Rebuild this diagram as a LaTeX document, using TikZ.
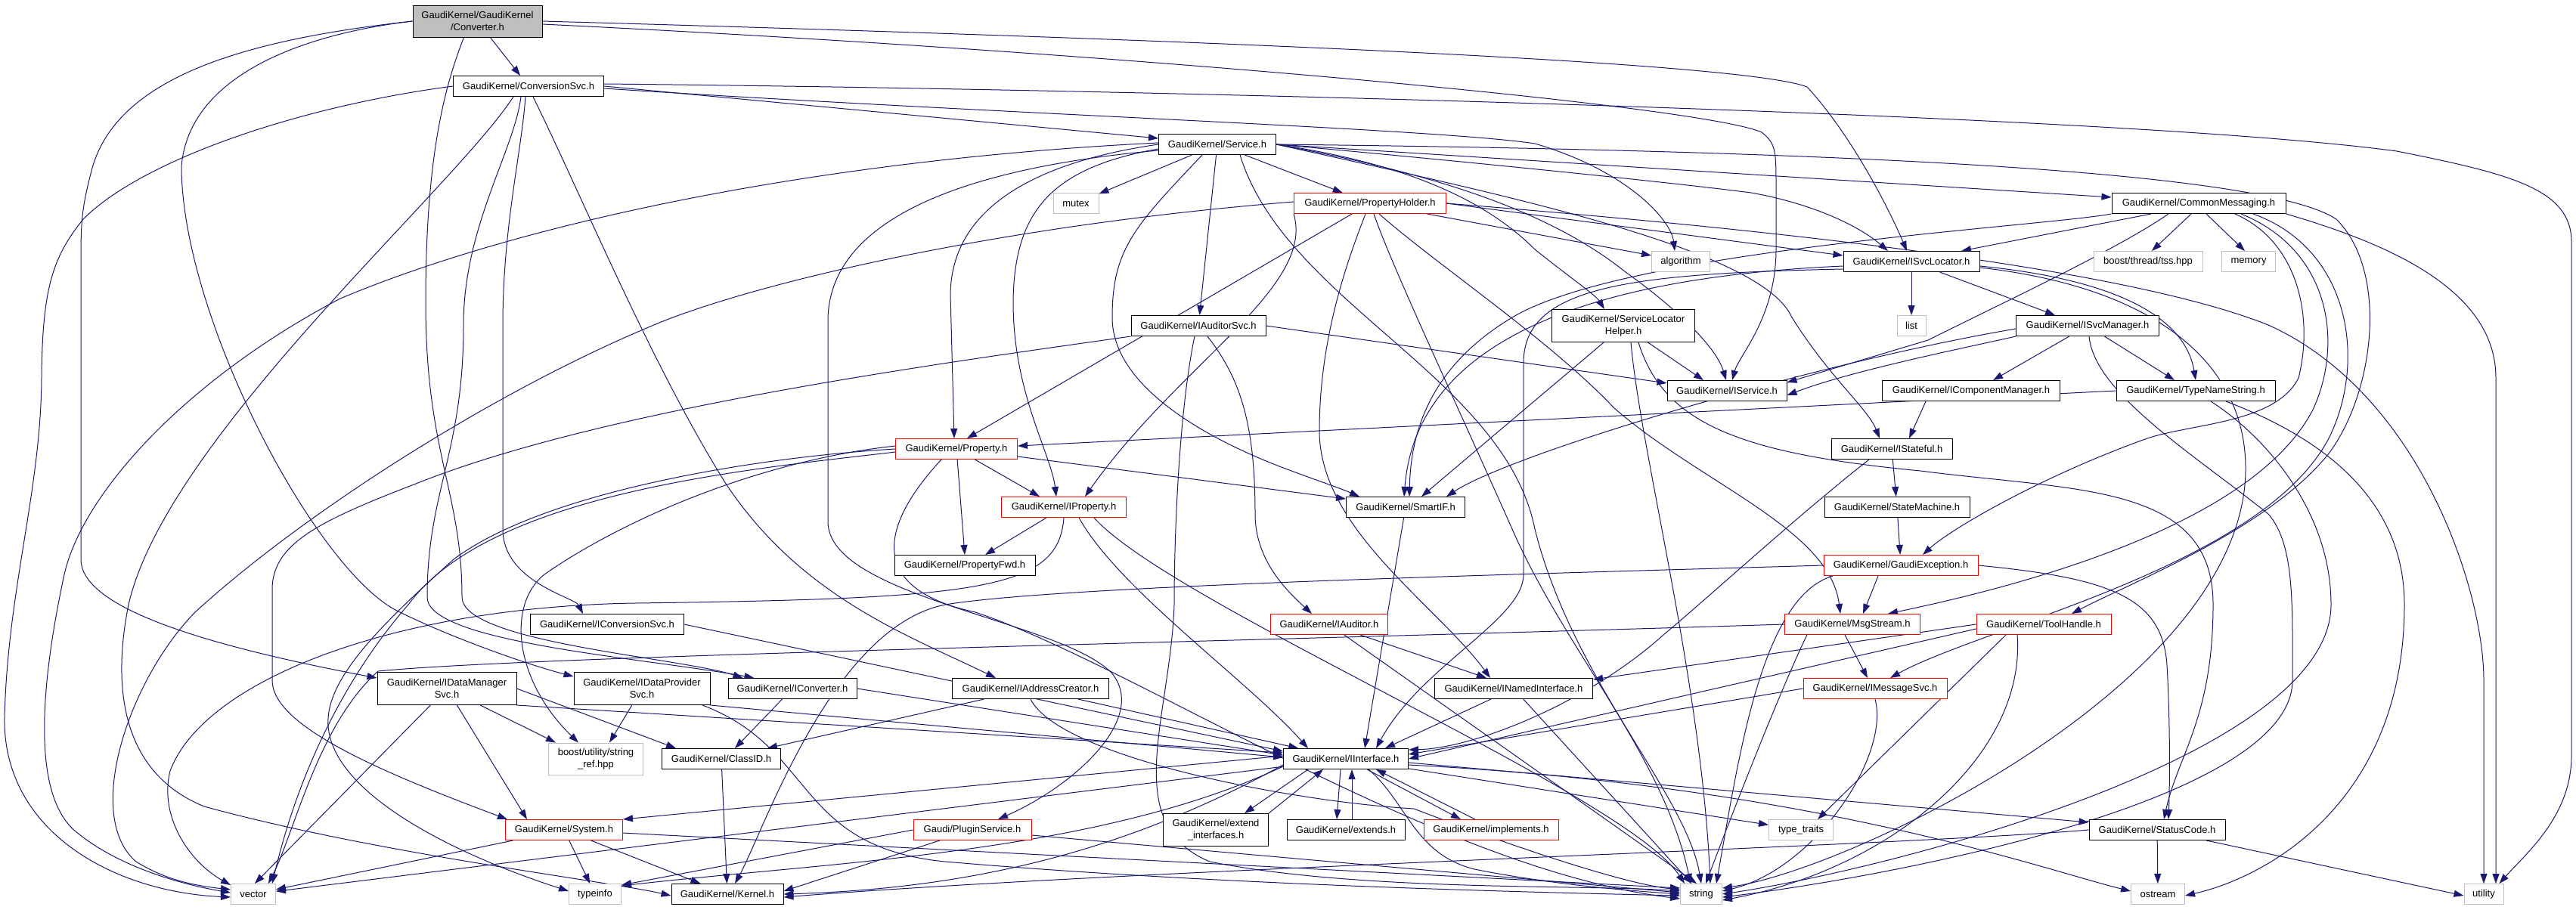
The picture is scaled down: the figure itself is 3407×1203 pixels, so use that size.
\documentclass[tikz,border=0pt]{standalone}
\usepackage{fontspec}
\setmainfont{Liberation Sans}
\usetikzlibrary{arrows.meta}
\definecolor{edgec}{HTML}{191970}
\definecolor{grayb}{HTML}{BFBFBF}
\pgfdeclarelayer{bg}
\pgfsetlayers{bg,main}
\begin{document}
\begin{tikzpicture}[x=1pt,y=-1pt,
  nb/.style={draw=black,fill=white,line width=1pt,inner sep=0pt,font=\fontsize{13}{16}\selectfont,align=center,minimum height=27pt},
  nr/.style={nb,draw=red},
  ng/.style={nb,draw=grayb},
  e/.style={draw=edgec,line width=1pt,-{Triangle[length=13pt,width=9pt]}},
]
\useasboundingbox (0,0) rectangle (3407,1203);
% ---------------- nodes
\node[nb,fill=grayb,minimum width=171pt,minimum height=42pt] (conv) at (631.5,28) {GaudiKernel/GaudiKernel\\/Converter.h};
\node[nb,minimum width=199pt] (csvc) at (699,114) {GaudiKernel/ConversionSvc.h};
\node[nb,minimum width=155pt] (svc) at (1610,191) {GaudiKernel/Service.h};
\node[ng,minimum width=60pt] (mutex) at (1423,269) {mutex};
\node[nr,minimum width=201pt] (ph) at (1812,269) {GaudiKernel/PropertyHolder.h};
\node[ng,minimum width=77pt] (algo) at (2223,346) {algorithm};
\node[nb,minimum width=180pt] (isl) at (2528,346) {GaudiKernel/ISvcLocator.h};
\node[nb,minimum width=230pt] (cm) at (2908,269) {GaudiKernel/CommonMessaging.h};
\node[ng,minimum width=144pt] (tss) at (2841,346) {boost/thread/tss.hpp};
\node[ng,minimum width=71pt] (memory) at (2974,346) {memory};
\node[nb,minimum width=178pt] (ias) at (1585,431) {GaudiKernel/IAuditorSvc.h};
\node[nb,minimum width=189pt,minimum height=43pt] (slh) at (2147,431) {GaudiKernel/ServiceLocator\\Helper.h};
\node[ng,minimum width=38pt] (list) at (2528,431) {list};
\node[nb,minimum width=189pt] (ism) at (2761,431) {GaudiKernel/ISvcManager.h};
\node[nb,minimum width=158pt] (isvc) at (2284,517) {GaudiKernel/IService.h};
\node[nb,minimum width=235pt] (icm) at (2607,517) {GaudiKernel/IComponentManager.h};
\node[nb,minimum width=210pt] (tns) at (2904,517) {GaudiKernel/TypeNameString.h};
\node[nr,minimum width=161pt] (prop) at (1265,594) {GaudiKernel/Property.h};
\node[nb,minimum width=160pt] (istf) at (2502,594) {GaudiKernel/IStateful.h};
\node[nr,minimum width=165pt] (iprop) at (1407,671) {GaudiKernel/IProperty.h};
\node[nb,minimum width=157pt] (sif) at (1859,671) {GaudiKernel/SmartIF.h};
\node[nb,minimum width=192pt] (sm) at (2509,671) {GaudiKernel/StateMachine.h};
\node[nb,minimum width=186pt] (pfwd) at (1276,748) {GaudiKernel/PropertyFwd.h};
\node[nr,minimum width=204pt] (gex) at (2514,748) {GaudiKernel/GaudiException.h};
\node[nb,minimum width=203pt] (icsvc) at (803,826) {GaudiKernel/IConversionSvc.h};
\node[nr,minimum width=155pt] (iaud) at (1758,826) {GaudiKernel/IAuditor.h};
\node[nr,minimum width=179pt] (msg) at (2450,826) {GaudiKernel/MsgStream.h};
\node[nr,minimum width=178pt] (th) at (2703,826) {GaudiKernel/ToolHandle.h};
\node[nb,minimum width=184pt,minimum height=43pt] (idm) at (591,911) {GaudiKernel/IDataManager\\Svc.h};
\node[nb,minimum width=180pt,minimum height=43pt] (idp) at (849,911) {GaudiKernel/IDataProvider\\Svc.h};
\node[nb,minimum width=170pt] (icnv) at (1048,911) {GaudiKernel/IConverter.h};
\node[nb,minimum width=207pt] (iac) at (1363,911) {GaudiKernel/IAddressCreator.h};
\node[nb,minimum width=209pt] (ini) at (2002,911) {GaudiKernel/INamedInterface.h};
\node[nr,minimum width=190pt] (ims) at (2480,911) {GaudiKernel/IMessageSvc.h};
\node[ng,minimum width=125pt,minimum height=42pt] (sref) at (788,1004) {boost/utility/string\\\_ref.hpp};
\node[nb,minimum width=157pt] (cid) at (954,1004) {GaudiKernel/ClassID.h};
\node[nb,minimum width=165pt] (iif) at (1780,1004) {GaudiKernel/IInterface.h};
\node[nr,minimum width=155pt] (sys) at (746,1098) {GaudiKernel/System.h};
\node[nr,minimum width=156pt] (plug) at (1286,1098) {Gaudi/PluginService.h};
\node[nb,minimum width=139pt,minimum height=43pt] (ext) at (1608,1098) {GaudiKernel/extend\\\_interfaces.h};
\node[nb,minimum width=156pt] (extends) at (1780,1098) {GaudiKernel/extends.h};
\node[nr,minimum width=178pt] (impl) at (1972,1098) {GaudiKernel/implements.h};
\node[ng,minimum width=85pt] (tt) at (2382,1098) {type\_traits};
\node[nb,minimum width=180pt] (sc) at (2853,1098) {GaudiKernel/StatusCode.h};
\node[ng,minimum width=59pt] (vector) at (335,1183) {vector};
\node[ng,minimum width=69pt] (typeinfo) at (787,1183) {typeinfo};
\node[nb,minimum width=148pt] (kernel) at (962,1183) {GaudiKernel/Kernel.h};
\node[ng,minimum width=55pt] (string) at (2250,1183) {string};
\node[ng,minimum width=71pt] (ostream) at (2854,1183) {ostream};
\node[ng,minimum width=52pt] (utility) at (3285,1183) {utility};
% ---------------- edges
\begin{pgfonlayer}{bg}
\fill[white] (0,0) rectangle (3407,1203);
% Converter.h
\draw[e] (conv) -- (csvc);
\draw[e] (conv.west) .. controls (330,52) and (150,100) .. (120,230) .. controls (107,280) and (107,300) .. (107,350) -- (107,740) .. controls (107,800) and (250,850) .. ([yshift=-8pt]idm.north west);
\draw[e] (conv.west) .. controls (400,45) and (250,100) .. (240,220) .. controls (240,420) and (420,760) .. (529,810) .. controls (600,845) and (700,880) .. ([yshift=-6pt]idp.north west);
\draw[e] ([xshift=-18pt]conv.south) .. controls (590,110) and (563,200) .. (563,400) .. controls (563,600) and (611,650) .. (611,790) .. controls (611,850) and (900,870) .. ([xshift=20pt]icnv.north west);
\draw[e] (conv.east) .. controls (1500,50) and (2300,80) .. (2390,115) .. controls (2450,180) and (2500,280) .. ([xshift=-6pt]isl.north);
\draw[e] ([yshift=-4pt]conv.east) .. controls (1500,70) and (2250,140) .. (2330,175) .. controls (2349,190) and (2349,200) .. (2349,250) -- (2349,330) .. controls (2349,420) and (2300,470) .. ([xshift=7pt]isvc.north);
% ConversionSvc.h
\draw[e] (csvc.east) -- ([yshift=8pt]svc.west);
\draw[e] ([yshift=-3pt]csvc.east) .. controls (1300,150) and (1900,170) .. (2030,190) .. controls (2150,225) and (2210,290) .. ([xshift=-8pt]algo.north);
\draw[e] ([yshift=3pt]csvc.east) .. controls (1500,118) and (2800,150) .. (3170,200) .. controls (3320,230) and (3401,250) .. (3401,320) -- (3401,1000) .. controls (3401,1080) and (3340,1130) .. ([xshift=-6pt]utility.north east);
\draw[e] (csvc.west) .. controls (400,140) and (190,210) .. (110,290) .. controls (70,340) and (56,380) .. (55,500) .. controls (54,650) and (10,780) .. (6,950) .. controls (4,1100) and (150,1180) .. ([yshift=-4pt]vector.west);
\draw[e] ([xshift=-20pt]csvc.south) .. controls (600,250) and (220,580) .. (170,800) .. controls (150,900) and (155,1020) .. (270,1067) .. controls (500,1130) and (800,1165) .. ([yshift=-2pt]kernel.west);
\draw[e] ([xshift=-10pt]csvc.south) .. controls (680,200) and (613,300) .. (613,430) .. controls (613,600) and (565,650) .. (565,790) .. controls (565,850) and (850,870) .. ([xshift=35pt]icnv.north west);
\draw[e] ([xshift=-4pt]csvc.south) .. controls (690,200) and (665,300) .. (665,430) -- (665,700) .. controls (665,770) and (760,790) .. ([xshift=-32pt]icsvc.north);
\draw[e] ([xshift=6pt]csvc.south) .. controls (770,260) and (860,480) .. (960,640) .. controls (1060,790) and (1200,840) .. ([xshift=-46pt]iac.north);
% Service.h
\draw[e] (svc) -- (mutex);
\draw[e] (svc) -- (ph);
\draw[e] (svc) -- (ias);
\draw[e] (svc.east) .. controls (1850,215) and (1960,260) .. (2030,330) .. controls (2080,370) and (2110,390) .. ([xshift=-25pt]slh.north);
\draw[e] (svc.east) .. controls (1900,230) and (2050,280) .. (2150,360) .. controls (2220,410) and (2270,460) .. ([xshift=-1pt]isvc.north);
\draw[e] (svc.east) .. controls (1900,210) and (2200,240) .. (2316,255) .. controls (2400,270) and (2460,300) .. ([xshift=-31pt]isl.north);
\draw[e] (svc.east) -- ([yshift=8pt]cm.west);
\draw[e] (svc.west) .. controls (1400,210) and (1258,260) .. (1257,390) -- ([xshift=-3pt]prop.north);
\draw[e] ([yshift=-6pt]svc.west) .. controls (1390,222) and (1341,280) .. (1340,400) .. controls (1340,520) and (1390,600) .. ([xshift=-10pt]iprop.north);
\draw[e] ([xshift=-20pt]svc.south) .. controls (1500,300) and (1471,330) .. (1471,420) .. controls (1471,520) and (1620,590) .. (1700,620) .. controls (1740,635) and (1770,645) .. ([xshift=-61pt]sif.north);
\draw[e] (svc.east) .. controls (2500,200) and (3000,230) .. (3090,290) .. controls (3160,360) and (3140,520) .. (3080,600) .. controls (3000,700) and (2820,770) .. ([xshift=37pt]th.north);
\draw[e] ([yshift=2pt]svc.west) .. controls (1100,210) and (700,290) .. (450,395) .. controls (250,500) and (110,650) .. (85,760) .. controls (55,900) and (40,1050) .. (100,1100) .. controls (160,1150) and (250,1172) .. ([yshift=2pt]vector.west);
\draw[e] ([yshift=-8pt]svc.west) .. controls (1300,220) and (1100,280) .. (1095,420) -- (1095,690) .. controls (1095,790) and (1400,820) .. (1470,890) .. controls (1520,950) and (1420,1040) .. ([xshift=34pt]plug.north);
\draw[e] ([xshift=30pt]svc.south) .. controls (1700,400) and (1990,500) .. (2030,700) .. controls (2080,900) and (2230,1050) .. ([xshift=0pt]string.north);
\draw[e] (svc.east) .. controls (2000,260) and (2330,330) .. (2370,420) .. controls (2420,500) and (2470,540) .. ([xshift=-16pt]istf.north);
% PropertyHolder.h
\draw[e] (ph) -- ([yshift=8pt]algo.west);
\draw[e] (ph.east) -- ([yshift=8pt]isl.west);
\draw[e] (ph) -- ([xshift=14pt]prop.north);
\draw[e] (ph.south west) .. controls (1740,380) and (1560,480) .. ([xshift=28pt]iprop.north);
\draw[e] ([yshift=2pt]ph.west) .. controls (1300,300) and (980,380) .. (860,432) .. controls (650,520) and (400,680) .. (258,810) .. controls (170,900) and (110,1080) .. (180,1140) .. controls (220,1165) and (260,1172) .. ([yshift=6pt]vector.west);
\draw[e] ([xshift=5pt]ph.south) .. controls (1840,350) and (1920,520) .. (2000,700) .. controls (2070,860) and (2200,1000) .. ([xshift=-14pt]string.north);
\draw[e] ([xshift=12pt]ph.south) .. controls (1900,350) and (2050,450) .. (2135,540) .. controls (2250,640) and (2420,700) .. ([xshift=-16pt]msg.north);
\draw[e] (ph.east) .. controls (2300,300) and (2800,350) .. (3000,430) .. controls (3200,520) and (3285,780) .. (3285,900) -- (utility.north);
\draw[e] ([xshift=-6pt]ph.south) .. controls (1780,350) and (1745,450) .. (1745,570) .. controls (1745,700) and (1900,800) .. ([xshift=-31pt]ini.north);
% ISvcLocator.h
\draw[e] (isl) -- (list);
\draw[e] (isl) -- ([xshift=-43pt]ism.north);
\draw[e] ([yshift=-6pt]isl.east) .. controls (2800,370) and (2890,420) .. ([xshift=0pt]tns.north);
\draw[e] ([yshift=-6pt]isl.west) .. controls (2150,365) and (1875,430) .. ([xshift=-2pt]sif.north);
\draw[e] ([yshift=-10pt]isl.west) .. controls (2150,362) and (2015,380) .. (2015,480) -- (2015,760) .. controls (2015,820) and (1880,880) .. ([xshift=40pt]iif.north);
\draw[e] ([yshift=-8pt]isl.east) .. controls (2850,380) and (2970,480) .. (2970,620) .. controls (2970,900) and (2450,1150) .. ([yshift=8pt]string.east);
% CommonMessaging.h
\draw[e] ([xshift=-63pt]cm.south) -- ([xshift=66pt]isl.north);
\draw[e] ([xshift=-40pt]cm.south) .. controls (2800,330) and (2650,400) .. (2550,450) .. controls (2450,480) and (2400,495) .. ([yshift=-3pt]isvc.north east);
\draw[e] (cm.south west) .. controls (2700,300) and (2150,330) .. (2000,420) .. controls (1900,480) and (1866,560) .. ([xshift=5pt]sif.north);
\draw[e] ([xshift=-10pt]cm.south) -- ([xshift=5pt]tss.north);
\draw[e] ([xshift=10pt]cm.south) -- ([xshift=-5pt]memory.north);
\draw[e] ([xshift=48pt]cm.south) .. controls (3040,320) and (3060,420) .. (3040,500) .. controls (3010,560) and (2900,560) .. (2840,580) .. controls (2700,630) and (2580,700) .. ([xshift=29pt]gex.north);
\draw[e] ([xshift=56pt]cm.south) .. controls (3080,330) and (3100,450) .. (3060,540) .. controls (2980,700) and (2650,780) .. ([xshift=47pt]msg.north);
\draw[e] ([xshift=72pt]cm.south) .. controls (3110,330) and (3130,480) .. (3080,580) .. controls (2990,750) and (2620,830) .. ([xshift=20pt]ims.north);
\draw[e] (cm.south east) .. controls (3150,320) and (3301,380) .. (3301,500) -- ([xshift=16pt]utility.north);
% IAuditorSvc.h
\draw[e] (ias.east) -- ([yshift=10pt]isvc.west);
\draw[e] ([xshift=12pt]ias.south) .. controls (1640,500) and (1660,560) .. (1660,680) .. controls (1660,740) and (1700,780) .. ([xshift=-23pt]iaud.north);
\draw[e] (ias.south west) .. controls (1250,480) and (800,540) .. (550,640) .. controls (420,690) and (360,720) .. (360,780) -- (360,900) .. controls (360,960) and (500,1020) .. ([xshift=-75pt]sys.north);
\draw[e] ([xshift=-5pt]ias.south) .. controls (1560,540) and (1553,700) .. (1553,800) .. controls (1548,950) and (1480,1090) .. (1600,1140) .. controls (1800,1180) and (2100,1170) .. ([yshift=4pt]string.west);
% ServiceLocatorHelper.h
\draw[e] (slh) -- ([xshift=-31pt]isvc.north);
\draw[e] (slh) -- ([xshift=21pt]sif.north);
\draw[e] ([xshift=10pt]slh.south) .. controls (2170,600) and (2250,900) .. ([xshift=12pt]string.north);
\draw[e] ([xshift=20pt]slh.south) .. controls (2200,560) and (2300,600) .. (2540,623) .. controls (2750,650) and (2927,640) .. (2927,800) .. controls (2927,950) and (2880,1000) .. ([xshift=9pt]sc.north);
% ISvcManager.h
\draw[e] (ism) -- ([xshift=29pt]icm.north);
\draw[e] (ism) -- ([xshift=-28pt]tns.north);
\draw[e] (ism.south west) .. controls (2600,460) and (2450,490) .. ([yshift=-6pt]isvc.east);
\draw[e] ([yshift=-4pt]ism.west) .. controls (2400,480) and (2000,600) .. ([xshift=54pt]sif.north);
\draw[e] ([xshift=2pt]ism.south) .. controls (2770,520) and (2900,600) .. (3000,680) .. controls (3035,720) and (3032,800) .. (3032,900) .. controls (3032,1060) and (2500,1160) .. ([yshift=-4pt]string.east);
% IComponentManager.h
\draw[e] ([xshift=-60pt]icm.south) -- ([xshift=23pt]istf.north);
% TypeNameString.h
\draw[e] (tns.west) -- ([yshift=4pt]prop.east);
\draw[e] ([xshift=20pt]tns.south) .. controls (3000,580) and (3083,680) .. (3083,800) .. controls (3083,1000) and (2500,1150) .. ([yshift=0pt]string.east);
\draw[e] ([xshift=40pt]tns.south) .. controls (3100,590) and (3180,680) .. (3180,800) .. controls (3180,1060) and (3000,1160) .. ([yshift=-2pt]ostream.east);
% Property.h
\draw[e] (prop) -- ([xshift=-32pt]iprop.north);
\draw[e] (prop) -- (pfwd.north);
\draw[e] ([yshift=-10pt]prop.east) -- ([yshift=-3pt]sif.north west);
\draw[e] ([yshift=4pt]prop.west) .. controls (1000,610) and (820,690) .. (720,760) .. controls (670,800) and (680,900) .. ([xshift=-23pt]sref.north);
\draw[e] (prop.west) .. controls (1000,605) and (720,650) .. (600,740) .. controls (500,830) and (430,900) .. (434,960) .. controls (440,1050) and (600,1130) .. ([yshift=4pt]typeinfo.west);
\draw[e] ([yshift=-4pt]prop.west) .. controls (1000,620) and (650,650) .. (540,800) .. controls (470,880) and (400,1000) .. ([xshift=-5pt]vector.north east);
\draw[e] ([xshift=-20pt]prop.south) .. controls (1160,700) and (1150,780) .. (1290,810) .. controls (1500,880) and (1900,1150) .. ([yshift=-6pt]string.west);
% IStateful.h
\draw[e] (istf) -- (sm);
\draw[e] ([xshift=-30pt]istf.south) .. controls (2380,680) and (2260,790) .. (2200,840) .. controls (2100,930) and (1950,990) .. ([yshift=12pt]iif.east);
% IProperty.h
\draw[e] (iprop) -- ([xshift=27pt]pfwd.north);
\draw[e] (iprop.south) .. controls (1400,780) and (1300,792) .. (840,798) .. controls (520,803) and (270,900) .. (225,1020) .. controls (210,1080) and (250,1140) .. ([yshift=-2pt]vector.north west);
\draw[e] ([xshift=20pt]iprop.south) .. controls (1480,780) and (1650,900) .. ([xshift=-50pt]iif.north);
\draw[e] ([xshift=40pt]iprop.south) .. controls (1550,800) and (2150,1050) .. ([xshift=-22pt]string.north);
% SmartIF.h / StateMachine.h
\draw[e] (sif) -- ([xshift=25pt]iif.north);
\draw[e] (sm) -- (gex);
% GaudiException.h
\draw[e] ([xshift=-30pt]gex.south) -- ([xshift=14pt]msg.north);
\draw[e] (gex.east) .. controls (2791,765) and (2860,790) .. (2866,880) .. controls (2870,950) and (2870,1030) .. ([xshift=15pt]sc.north);
\draw[e] ([xshift=-90pt]gex.south) .. controls (2330,790) and (2300,1000) .. ([xshift=20pt]string.north);
\draw[e] (gex.west) .. controls (2000,760) and (1400,775) .. (1250,800) .. controls (1100,830) and (1010,1100) .. ([xshift=10pt]kernel.north);
% IConversionSvc.h / IAuditor.h
\draw[e] (icsvc.east) -- ([yshift=10pt]iif.west);
\draw[e] (iaud) -- ([xshift=-36pt]ini.north);
\draw[e] (iaud) -- ([xshift=-6pt]string.north);
% MsgStream.h
\draw[e] ([xshift=-10pt]msg.south) -- ([xshift=-10pt]ims.north);
\draw[e] ([xshift=-60pt]msg.south) .. controls (2370,880) and (2320,1000) .. ([xshift=6pt]string.north);
\draw[e] (msg.west) .. controls (1600,850) and (700,868) .. (500,888) .. controls (420,960) and (390,1100) .. ([xshift=20pt]vector.north);
% IMessageSvc.h
\draw[e] (ims.west) -- ([yshift=6pt]iif.east);
\draw[e] (ims.south) .. controls (2500,1000) and (2400,1150) .. ([yshift=4pt]string.east);
% ToolHandle.h
\draw[e] (th.west) -- ([yshift=-2pt]ini.north east);
\draw[e] ([yshift=-6pt]th.west) -- ([yshift=0pt]iif.east);
\draw[e] ([xshift=-50pt]th.south) -- ([xshift=22pt]tt.north);
\draw[e] ([xshift=-35pt]th.south) .. controls (2680,1000) and (2500,1150) .. ([yshift=-8pt]string.east);
% IInterface.h
\draw[e] ([xshift=-7pt]iif.south) -- ([xshift=-12pt]extends.north);
\draw[e] ([xshift=8pt]extends.north) -- ([xshift=8pt]iif.south);
\draw[e] ([xshift=28pt]iif.south) -- ([xshift=-40pt]impl.north);
\draw[e] ([xshift=-21pt]impl.north) -- ([xshift=40pt]iif.south);
\draw[e] ([xshift=-50pt]iif.south) -- ([xshift=38pt]ext.north);
\draw[e] (ext.north east) -- ([xshift=-30pt]iif.south);
\draw[e] (iif) -- (tt);
\draw[e] ([yshift=-5pt]iif.east) -- ([yshift=10pt]sc.west);
\draw[e] ([xshift=30pt]iif.south) .. controls (1860,1060) and (1870,1130) .. (1950,1150) .. controls (2050,1170) and (2150,1178) .. (string.west);
\draw[e] ([yshift=-8pt]iif.east) .. controls (2400,1040) and (2700,1150) .. ([yshift=4pt]ostream.west);
\draw[e] ([yshift=-8pt]iif.west) .. controls (1500,1120) and (1300,1175) .. (kernel.east);
\draw[e] ([yshift=4pt]iif.west) -- (sys.north east);
\draw[e] ([yshift=-10pt]iif.west) .. controls (1450,1130) and (1100,1140) .. ([yshift=-3pt]typeinfo.north east);
\draw[e] (iif) -- (vector);
% INamedInterface.h
\draw[e] (ini) -- ([xshift=52pt]iif.north);
\draw[e] (ini) -- (string);
% System.h
\draw[e] (sys) -- (kernel);
\draw[e] (sys) -- (typeinfo);
\draw[e] (sys) -- (vector);
\draw[e] (sys) -- ([yshift=8pt]string.west);
% PluginService.h
\draw[e] (plug.west) -- ([yshift=-2pt]typeinfo.north east);
\draw[e] (plug) -- ([yshift=4pt]kernel.east);
\draw[e] (plug) -- ([yshift=2pt]string.west);
% IDataManagerSvc.h / IDataProviderSvc.h
\draw[e] (idm) -- ([xshift=2pt]vector.north);
\draw[e] (idm) -- ([xshift=-49pt]sys.north);
\draw[e] (idm) -- ([xshift=-53pt]sref.north);
\draw[e] (idm.east) -- ([xshift=-60pt]cid.north);
\draw[e] (idm.south east) -- ([yshift=8pt]iif.west);
\draw[e] (idp) -- ([xshift=18pt]sref.north);
\draw[e] (idp.south east) -- ([yshift=2pt]iif.west);
\draw[e] ([xshift=80pt]idp.south) .. controls (1080,990) and (1050,1120) .. (1250,1140) .. controls (1600,1170) and (2000,1180) .. ([yshift=-2pt]string.west);
% IConverter.h / IAddressCreator.h / ClassID.h
\draw[e] (icnv) -- ([xshift=18pt]cid.north);
\draw[e] (icnv.east) -- ([yshift=5pt]iif.west);
\draw[e] (iac) -- ([xshift=61pt]cid.north);
\draw[e] (iac) -- (iif);
\draw[e] (iac.south) .. controls (1400,1000) and (1700,1060) .. (1870,1070) .. controls (2000,1120) and (2150,1170) .. ([yshift=6pt]string.west);
\draw[e] (cid) -- (kernel);
% StatusCode.h
\draw[e] (sc) -- (ostream);
\draw[e] (sc) -- ([yshift=-2pt]utility.west);
\draw[e] (sc.west) .. controls (2500,1120) and (1500,1150) .. ([yshift=-4pt]kernel.east);
\end{pgfonlayer}
\end{tikzpicture}
\end{document}
